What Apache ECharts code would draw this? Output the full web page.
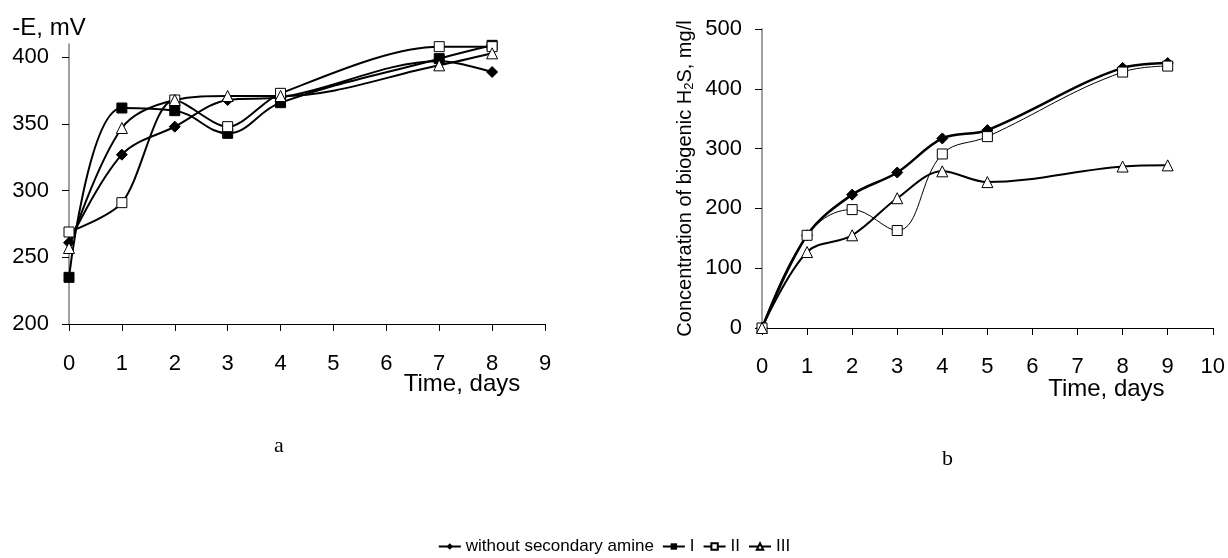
<!DOCTYPE html>
<html>
<head>
<meta charset="utf-8">
<script src="https://cdn.jsdelivr.net/npm/echarts@6/dist/echarts.min.js"></script>
<style>
  html, body { margin: 0; padding: 0; background: #fff; }
  #chart { width: 1228px; height: 558px; }
</style>
</head>
<body>
<div id="chart"></div>
<script>
// --- data ---
// (a) redox potential, -E in mV
const daysA = [0, 1, 2, 3, 4, 7, 8];
const eWithout = [261, 327, 348, 368, 370, 397, 389];
const eI = [235, 362, 360, 343, 366, 399, 409];
const eII = [269, 291, 368, 348, 373, 408, 408];
const eIII = [257, 347, 368, 371, 371, 394, 403];

// (b) biogenic H2S concentration, mg/l
const daysB = [0, 1, 2, 3, 4, 5, 8, 9];
const h2sWithout = [0, 155, 223, 260, 317, 331, 435, 443];
const h2sII = [0, 155, 198, 163, 291, 320, 428, 438];
const h2sIII = [0, 127, 155, 217, 262, 244, 270, 272];

const seriesNames = ['without secondary amine', 'I', 'II', 'III'];
const yTicksA = [200, 250, 300, 350, 400];

const pair = (xs, ys) => xs.map((x, i) => [x, ys[i]]);

const font = 'Liberation Sans, Arial, sans-serif';
const chart = echarts.init(document.getElementById('chart'));

// marker styles per series
const marks = {
  'without secondary amine': { symbol: 'diamond', symbolSize: 11, itemStyle: { color: '#000', borderColor: '#000' } },
  'I': { symbol: 'rect', symbolSize: 10, itemStyle: { color: '#000', borderColor: '#000' } },
  'II': { symbol: 'rect', symbolSize: 10, itemStyle: { color: '#fff', borderColor: '#000', borderWidth: 1 } },
  'III': { symbol: 'triangle', symbolSize: 11, itemStyle: { color: '#fff', borderColor: '#000', borderWidth: 1 } }
};

const mkSeries = (name, data, xi, width, smooth) => Object.assign({
  name: name,
  type: 'line',
  xAxisIndex: xi,
  yAxisIndex: xi,
  data: data,
  smooth: smooth,
  showAllSymbol: true,
  lineStyle: { color: '#000', width: width },
  emphasis: { disabled: true },
  z: 3
}, marks[name]);

const xAxisBase = {
  type: 'value',
  interval: 1,
  nameMoveOverlap: false,
  axisLine: { lineStyle: { color: '#000', width: 1 } },
  axisTick: { length: 7, lineStyle: { color: '#000' } },
  axisLabel: { color: '#000', fontFamily: font, fontSize: 22, margin: 14 },
  splitLine: { show: false },
  nameTextStyle: { color: '#000', fontFamily: font, fontSize: 24 }
};

const yAxisBase = {
  type: 'value',
  axisLine: { show: true, lineStyle: { color: '#808080', width: 1.5 } },
  axisTick: { show: true, length: 7, lineStyle: { color: '#000' } },
  axisLabel: { color: '#000', fontFamily: font, fontSize: 22, margin: 20 },
  splitLine: { show: false },
  nameTextStyle: { color: '#000', fontFamily: font, fontSize: 24 }
};

const option = {
  animation: false,
  backgroundColor: '#fff',
  grid: [
    { left: 69, right: 683, top: 44, bottom: 234 },
    { left: 762, right: 14, top: 29, bottom: 230 }
  ],
  legend: {
    data: seriesNames,
    top: 533,
    left: 'center',
    itemWidth: 22,
    itemHeight: 8,
    itemGap: 8,
    textStyle: { color: '#000', fontFamily: font, fontSize: 17 }
  },
  xAxis: [
    Object.assign({}, xAxisBase, {
      gridIndex: 0, min: 0, max: 9,
      axisLabel: Object.assign({}, xAxisBase.axisLabel, { margin: 29 }),
      name: 'Time, days',
      nameLocation: 'middle',
      nameGap: 48,
      nameTextStyle: Object.assign({}, xAxisBase.nameTextStyle, { padding: [0, 0, 0, 310] })
    }),
    Object.assign({}, xAxisBase, {
      gridIndex: 1, min: 0, max: 10,
      axisLabel: Object.assign({}, xAxisBase.axisLabel, { margin: 28 }),
      name: 'Time, days',
      nameLocation: 'middle',
      nameGap: 49,
      nameTextStyle: Object.assign({}, xAxisBase.nameTextStyle, { padding: [0, 0, 0, 238] })
    })
  ],
  yAxis: [
    Object.assign({}, yAxisBase, {
      gridIndex: 0, min: 200, max: 410,
      axisTick: Object.assign({}, yAxisBase.axisTick, { customValues: yTicksA }),
      axisLabel: Object.assign({}, yAxisBase.axisLabel, { customValues: yTicksA }),
      name: '-E, mV',
      nameLocation: 'end',
      nameGap: 4,
      nameTextStyle: Object.assign({}, yAxisBase.nameTextStyle, { padding: [0, 40, 0, 0] })
    }),
    Object.assign({}, yAxisBase, {
      gridIndex: 1, min: 0, max: 500, interval: 100,
      name: '{t|Concentration of biogenic H}{s|2}{t|S, mg/l}',
      nameLocation: 'middle',
      nameGap: 66,
      nameRotate: 90,
      nameTextStyle: {
        color: '#000',
        rich: {
          t: { fontFamily: font, fontSize: 20, color: '#000' },
          s: { fontFamily: font, fontSize: 13, color: '#000', verticalAlign: 'bottom', padding: [8, 0, 0, 0] }
        }
      }
    })
  ],
  graphic: [
    { type: 'text', left: 274, top: 435, style: { text: 'a', font: '22px "Liberation Serif", "Times New Roman", serif', fill: '#000' } },
    { type: 'text', left: 942, top: 448, style: { text: 'b', font: '22px "Liberation Serif", "Times New Roman", serif', fill: '#000' } }
  ],
  series: [
    mkSeries('without secondary amine', pair(daysA, eWithout), 0, 2, 0.35),
    mkSeries('I', pair(daysA, eI), 0, 2, 0.4),
    mkSeries('II', pair(daysA, eII), 0, 2, 0.3),
    mkSeries('III', pair(daysA, eIII), 0, 2, 0.35),
    mkSeries('without secondary amine', pair(daysB, h2sWithout), 1, 2.5, 0.35),
    mkSeries('II', pair(daysB, h2sII), 1, 1, 0.4),
    mkSeries('III', pair(daysB, h2sIII), 1, 2, 0.35)
  ]
};

chart.setOption(option);
window.addEventListener('resize', () => chart.resize());
</script>
</body>
</html>
